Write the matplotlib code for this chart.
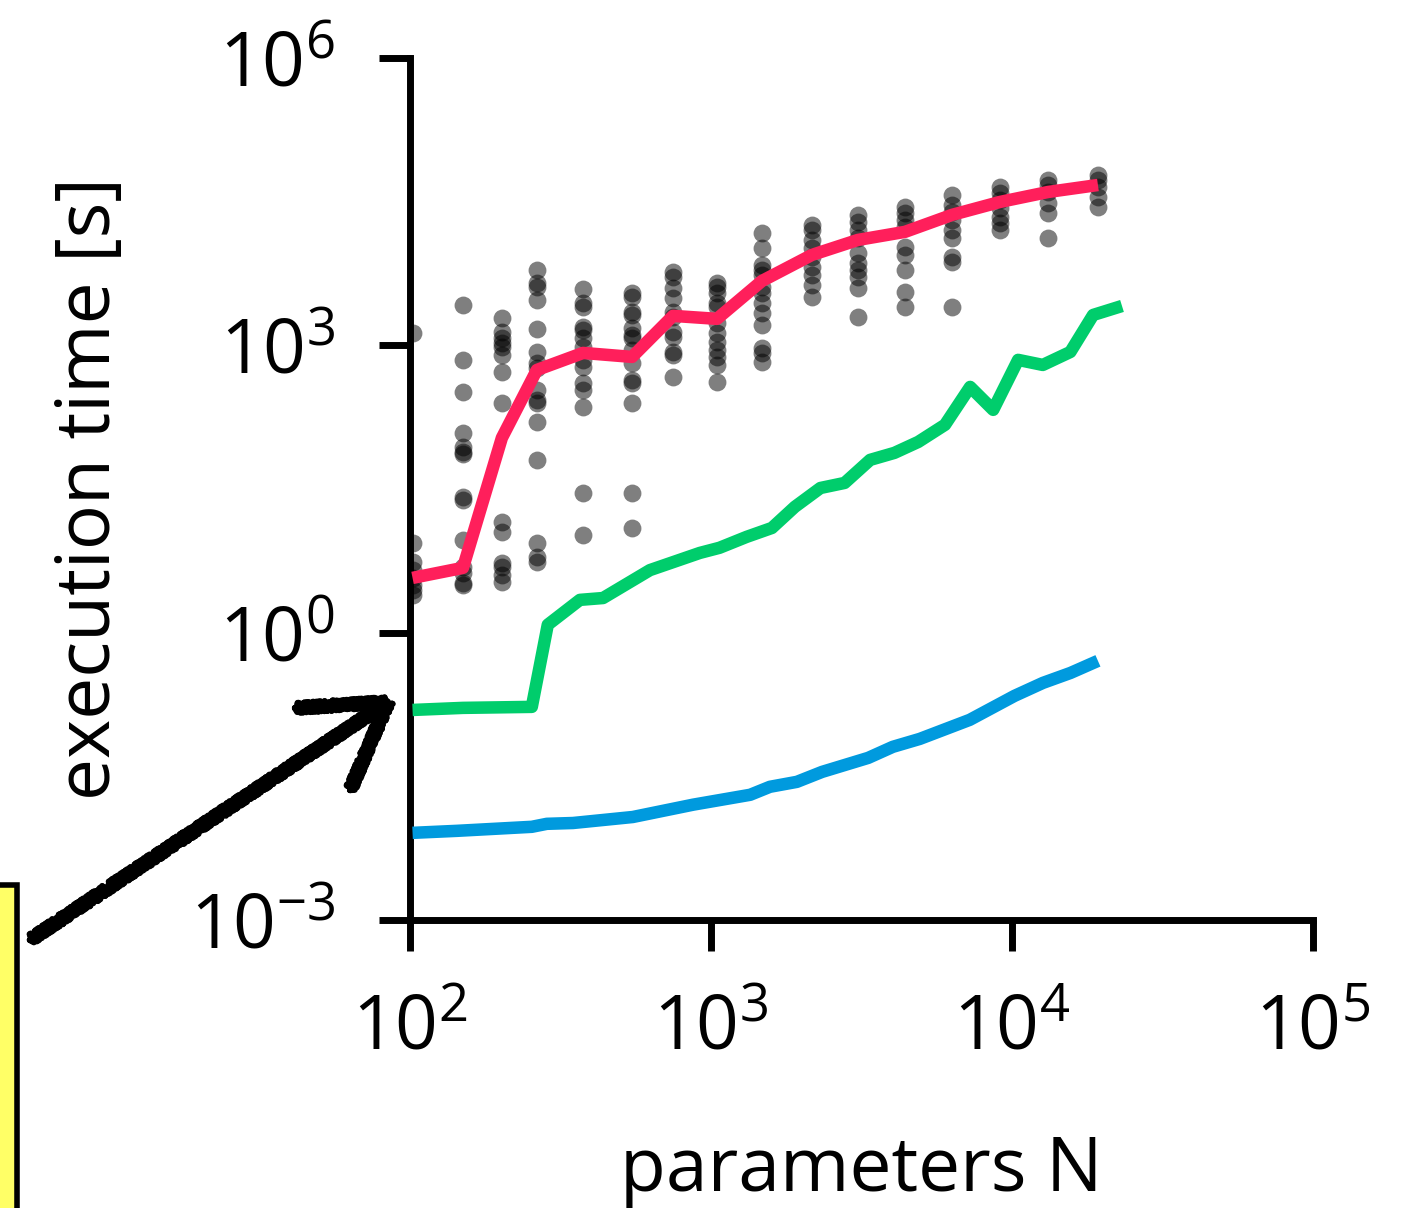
import matplotlib
matplotlib.use('Agg')
import matplotlib.pyplot as plt
from matplotlib.lines import Line2D
from matplotlib.patches import Rectangle
from matplotlib.ticker import LogFormatterMathtext, NullLocator, FixedLocator

plt.rcParams['font.family'] = ['Open Sans', 'DejaVu Sans']
plt.rcParams['mathtext.fontset'] = 'custom'
plt.rcParams['mathtext.rm'] = 'Open Sans'
plt.rcParams['mathtext.default'] = 'regular'

# brute force runs (grey dots) and their median (red line)
scatter_n = [102, 150, 202, 265, 375, 545, 750, 1045, 1480, 2165, 3080, 4410, 6320, 9120, 13180, 19300]
scatter_t = [
    [1350, 8.66, 5.48, 4.52, 3.73, 3.15, 2.80, 2.48],
    [2640, 704, 326, 122, 87, 77, 73.5, 26.2, 24.3, 9.3, 4.86, 4.21, 3.31, 3.15],
    [1930, 1380, 1190, 1060, 962, 794, 528, 250, 14.3, 11.3, 5.35, 4.86, 4.01, 3.39],
    [6120, 4480, 4070, 2980, 1480, 853, 655, 581, 342, 269, 250, 159, 63.7, 8.66, 6.18, 5.48],
    [3880, 2770, 2520, 1560, 1450, 1190, 962, 704, 595, 405, 342, 228, 28.8, 10.5],
    [3520, 3200, 2230, 2080, 1520, 1280, 1190, 895, 655, 436, 405, 250, 28.8, 12.4],
    [5840, 5180, 3970, 3120, 2230, 1980, 1380, 1220, 853, 794, 468],
    [4480, 4070, 3520, 2770, 2520, 1710, 1350, 1085, 895, 757, 624, 415],
    [14900, 10400, 6910, 6120, 5430, 4070, 3520, 2770, 2180, 1630, 940, 833, 671],
    [18100, 16000, 12600, 10400, 8370, 6580, 5430, 4270, 3200],
    [23000, 19400, 16000, 13200, 9200, 7250, 6120, 5180, 3970, 1980],
    [27800, 24100, 20400, 17200, 10600, 8780, 6120, 3610, 2520],
    [37100, 29200, 24700, 20400, 16000, 13200, 8370, 7420, 2520],
    [45000, 39000, 32900, 27200, 21900, 19000, 16000],
    [53300, 47200, 39900, 30600, 24100, 13200],
    [60000, 53300, 45000, 35400, 27800],
]
red_n = [102, 150, 202, 264, 376, 547, 748, 1047, 1477, 2165, 3077, 4412, 6317, 9120, 13180, 19300]
red_t = [3.73, 4.75, 108, 553, 833, 757, 2030, 1890, 4700, 8790, 12600, 15300, 23000, 31400, 39900, 47200]

green_n = [102, 150, 254, 287, 367, 438, 627, 918, 1068, 1313, 1594, 1900, 2310, 2780, 3380,
           4070, 4880, 5990, 7260, 8660, 10480, 12660, 15630, 18600, 23200]
green_t = [0.156, 0.164, 0.168, 1.21, 2.2, 2.3, 4.5, 6.8, 7.7, 10, 12.4, 20.6, 32.4, 36.6, 63.7,
           75.4, 98, 148, 368, 212, 705, 624, 853, 2075, 2576]

blue_n = [102, 143, 254, 285, 348, 550, 872, 1350, 1570, 1930, 2340, 3330, 4020, 4940,
          7240, 10200, 12670, 15650, 19300]
blue_t = [0.00813, 0.00853, 0.0094, 0.0101, 0.0103, 0.0119, 0.0160, 0.0203, 0.0246, 0.0277,
          0.0352, 0.0493, 0.0643, 0.0778, 0.123, 0.219, 0.299, 0.380, 0.508]

x_ticks = [1e2, 1e3, 1e4, 1e5]
y_ticks = [1e-3, 1e0, 1e3, 1e6]

fig = plt.figure(figsize=(14.19, 12.08), dpi=100)
ax = fig.add_axes([0.2889, 0.2384, 0.9253 - 0.2889, 0.952 - 0.2384])

for n, ts in zip(scatter_n, scatter_t):
    ax.scatter([n] * len(ts), ts, s=165, c='black', alpha=0.5, linewidths=0, zorder=2)

ax.plot(red_n, red_t, color='#FF1F5B', lw=9, solid_capstyle='butt', zorder=3)
ax.plot(green_n, green_t, color='#00CD6C', lw=9, solid_capstyle='butt', zorder=3)
ax.plot(blue_n, blue_t, color='#009ADE', lw=9, solid_capstyle='butt', zorder=3)

ax.set_xscale('log')
ax.set_yscale('log')
ax.set_xlim(1e2, 1e5)
ax.set_ylim(1e-3, 1e6)
ax.xaxis.set_major_locator(FixedLocator(x_ticks))
ax.yaxis.set_major_locator(FixedLocator(y_ticks))
ax.xaxis.set_minor_locator(NullLocator())
ax.yaxis.set_minor_locator(NullLocator())
ax.xaxis.set_major_formatter(LogFormatterMathtext())
ax.yaxis.set_major_formatter(LogFormatterMathtext())

for s in ['top', 'right']:
    ax.spines[s].set_visible(False)
for s in ['left', 'bottom']:
    ax.spines[s].set_linewidth(5)
ax.tick_params(direction='out', length=22, width=5, labelsize=54)
ax.tick_params(axis='x', pad=30)
ax.tick_params(axis='y', pad=32)

ax.set_xlabel('parameters N', fontsize=54, labelpad=48)
ax.set_ylabel('execution time [s]', fontsize=54, labelpad=44)

# yellow box cut off at the left edge
fig.patches.append(Rectangle((-0.02, -0.05), 0.0323, 0.3174, transform=fig.transFigure,
                             facecolor='#FFFF66', edgecolor='black', lw=4, zorder=1))

# sketchy arrow pointing at the axis
arrow_strokes = [
    ([0.0211, 0.2734], [0.2219, 0.4189]),
    ([0.2079, 0.2734], [0.4139, 0.4189]),
    ([0.2467, 0.2734], [0.3460, 0.4189]),
]
for xs, ys in arrow_strokes:
    for k in range(4):
        ln = Line2D(xs, ys, transform=fig.transFigure, color='black', lw=4.5,
                    solid_capstyle='round')
        ln.set_sketch_params(scale=5, length=5, randomness=3 + 2 * k)
        fig.lines.append(ln)

fig.savefig('out.png', dpi=100)
